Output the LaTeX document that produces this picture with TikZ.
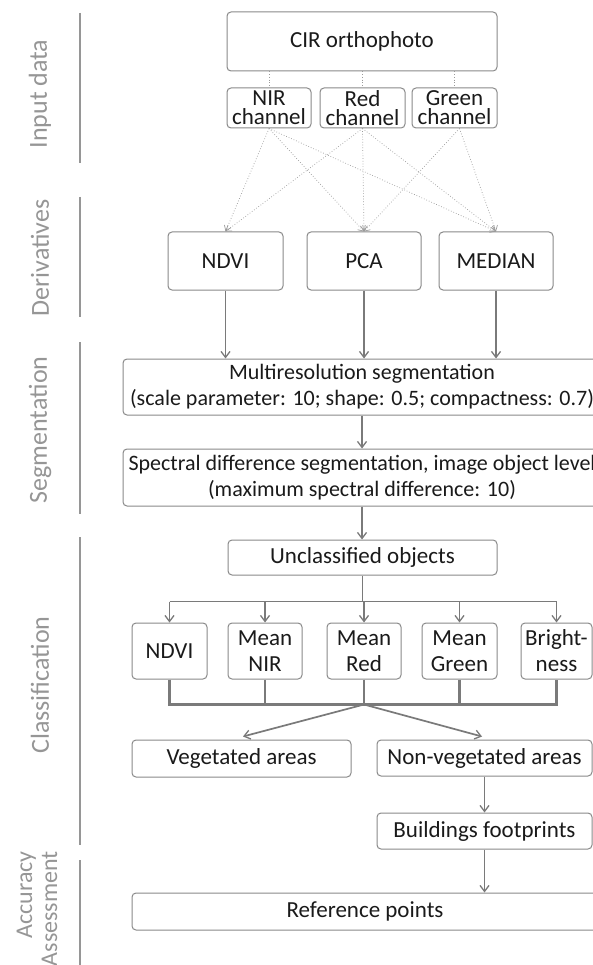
\documentclass[tikz,border=0pt]{standalone}
\usepackage{fontspec}
\setmainfont{Carlito}
\usetikzlibrary{arrows.meta,calc}
\definecolor{boxgray}{HTML}{8A8A8A}
\definecolor{lngray}{HTML}{7A7A7A}
\definecolor{labgray}{HTML}{969696}
\definecolor{txt}{HTML}{1A1A1A}
\definecolor{dotgray}{HTML}{9A9A9A}
\begin{document}
\begin{tikzpicture}[x=1pt,y=-1pt,
  box/.style={draw=boxgray,line width=1pt,rounded corners=4pt,text=txt,
    font=\fontsize{23}{26}\selectfont,align=center,inner sep=0pt},
  segbox/.style={box,font=\fontsize{22}{26}\selectfont},
  chbox/.style={box,font=\fontsize{23}{19}\selectfont},
  lab/.style={text=labgray,font=\fontsize{26}{26}\selectfont,rotate=90,inner sep=0pt},
  secline/.style={draw=labgray,line width=1.8pt},
  conn/.style={draw=lngray,line width=1.7pt},
  arr/.style={conn,-{Straight Barb[length=6pt,width=9pt,line width=1.3pt]}},
  dotc/.style={draw=dotgray,line width=0.7pt,dotted},
  dota/.style={dotc,-{Straight Barb[length=5pt,width=7pt,line width=0.7pt]}}]
\useasboundingbox (0,0) rectangle (593,965);
\clip (0,0) rectangle (593,965);
\fill[white] (0,0) rectangle (593,965);

% section labels and separator lines
\node[lab] (l1) at (40,94) {Input data};
\node[lab] (l2) at (40,258) {Derivatives};
\node[lab] (l3) at (40,430) {Segmentation};
\node[lab] (l4) at (40,685) {Classification};
\node[lab,font=\fontsize{24}{25}\selectfont,align=right,anchor=east] (l5) at (37,851) {Accuracy\\Assessment};
\draw[secline] (80,13) -- (80,163);
\draw[secline] (80,197) -- (80,317);
\draw[secline] (80,342) -- (80,514);
\draw[secline] (80,537) -- (80,845);
\draw[secline] (80,860) -- (80,965);

% input data
\node[box,minimum width=270pt,minimum height=59pt] (cir) at (362,41.5) {CIR orthophoto};
\node[chbox,minimum width=84pt,minimum height=40pt] (nir) at (269,108) {NIR\\channel};
\node[chbox,minimum width=85pt,minimum height=40pt] (red) at (362.5,108) {Red\\channel};
\node[chbox,minimum width=85pt,minimum height=40pt] (grn) at (454.5,108) {Green\\channel};

% derivatives
\node[box,minimum width=115pt,minimum height=58pt] (ndvi) at (225.5,261) {NDVI};
\node[box,minimum width=114pt,minimum height=58pt] (pca) at (364,261) {PCA};
\node[box,minimum width=114pt,minimum height=58pt] (med) at (496,261) {MEDIAN};

% segmentation
\node[segbox,minimum width=478pt,minimum height=56pt] (mres) at (362,387)
  {Multiresolution segmentation\\(scale parameter: 10; shape: 0.5; compactness: 0.7)};
\node[segbox,minimum width=478pt,minimum height=57pt] (spec) at (362,477.5)
  {Spectral difference segmentation, image object level\\(maximum spectral difference: 10)};

% classification
\node[box,minimum width=269pt,minimum height=35pt] (unc) at (362.5,557.5) {Unclassified objects};
\node[box,minimum width=75pt,minimum height=56pt] (c1) at (169.5,651) {NDVI};
\node[box,minimum width=74pt,minimum height=56pt] (c2) at (265,651) {Mean\\NIR};
\node[box,minimum width=74pt,minimum height=56pt] (c3) at (364,651) {Mean\\Red};
\node[box,minimum width=75pt,minimum height=56pt] (c4) at (459.5,651) {Mean\\Green};
\node[box,minimum width=71pt,minimum height=56pt] (c5) at (556.5,651) {Bright-\\ness};
\node[box,minimum width=219pt,minimum height=37pt] (veg) at (241.5,758.5) {Vegetated areas};
\node[box,minimum width=215pt,minimum height=36pt] (nveg) at (484.5,758) {Non-vegetated areas};
\node[box,minimum width=215pt,minimum height=36pt] (bld) at (484.5,831) {Buildings footprints};

% accuracy assessment
\node[box,minimum width=466pt,minimum height=37pt] (ref) at (365,911.5) {Reference points};

% connectors: input data
\draw[dotc] (cir.south -| nir.north) -- (nir.north);
\draw[dotc] (cir.south -| red.north) -- (red.north);
\draw[dotc] (cir.south -| grn.north) -- (grn.north);
\draw[dota] (nir.south) -- (ndvi.north);
\draw[dota] (nir.south) -- (pca.north);
\draw[dota] (nir.south) -- (med.north);
\draw[dota] (red.south) -- (ndvi.north);
\draw[dota] (red.south) -- (pca.north);
\draw[dota] (red.south) -- (med.north);
\draw[dota] ($(grn.south)+(5,0)$) -- (pca.north);
\draw[dota] ($(grn.south)+(5,0)$) -- (med.north);

% derivatives to segmentation
\draw[arr] (ndvi.south) -- (ndvi.south |- mres.north);
\draw[arr] (pca.south) -- (pca.south |- mres.north);
\draw[arr] (med.south) -- (med.south |- mres.north);
\draw[arr] (mres.south) -- (spec.north);
\draw[arr] (spec.south) -- (spec.south |- unc.north);

% classification
\coordinate (tb) at ($(unc.south)+(0,26)$);
\coordinate (bb) at ($(c3.south)+(0,25)$);
\draw[conn] (unc.south) -- (tb);
\draw[conn] (c1.north |- tb) -- (c5.north |- tb);
\foreach \c in {c1,c2,c3,c4,c5}{
  \draw[arr] (\c.north |- tb) -- (\c.north);
}
\draw[conn,line width=2.2pt] (c1.south) -- (c1.south |- bb) -- (c5.south |- bb) -- (c5.south);
\foreach \c in {c2,c3,c4}{
  \draw[conn,line width=2.2pt] (\c.south) -- (\c.south |- bb);
}
\draw[arr] (bb) -- ($(veg.north)+(1.5,-3)$);
\draw[arr] (bb) -- ($(nveg.north)+(-2.5,-3)$);
\draw[arr] (nveg.south) -- (bld.north);
\draw[arr] (bld.south) -- (bld.south |- ref.north);
\end{tikzpicture}
\end{document}
